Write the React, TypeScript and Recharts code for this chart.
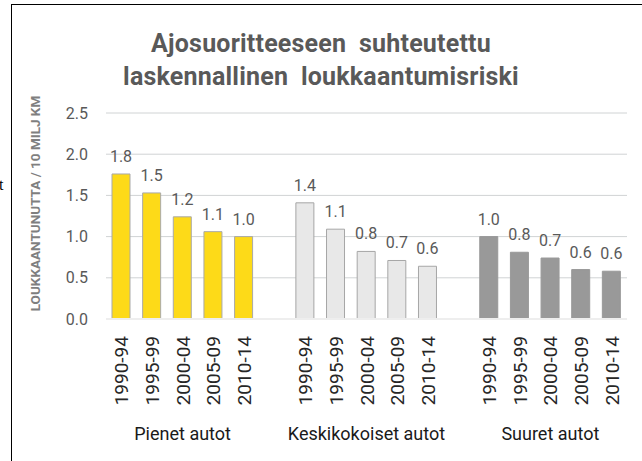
import React from "react";
import {
  BarChart,
  Bar,
  XAxis,
  YAxis,
  CartesianGrid,
  Cell,
  LabelList,
} from "recharts";

const periods = ["1990-94", "1995-99", "2000-04", "2005-09", "2010-14"];
const groups = ["Pienet autot", "Keskikokoiset autot", "Suuret autot"];
const pienet = [1.76, 1.53, 1.24, 1.06, 1.0];
const keskikokoiset = [1.41, 1.09, 0.82, 0.71, 0.64];
const suuret = [1.0, 0.81, 0.74, 0.6, 0.58];
const yTicks = [0, 0.5, 1, 1.5, 2, 2.5];

const groupValues = [pienet, keskikokoiset, suuret];
const fills = ["#FDDA18", "#E8E8E8", "#999999"];
const strokes = ["#A9A9A9", "#A6A6A6", "#999999"];

type Row = {
  period: string;
  value: number | null;
  group: string;
  mid: boolean;
  g: number;
};

const data: Row[] = [];
groupValues.forEach((vals, g) => {
  if (g > 0) data.push({ period: "", value: null, group: "", mid: false, g });
  vals.forEach((v, i) =>
    data.push({ period: periods[i], value: v, group: groups[g], mid: i === 2, g })
  );
});

const FONT = "Roboto, 'Open Sans', sans-serif";

function PeriodTick(props: any) {
  const { x, y, payload } = props;
  const row = data[payload.index];
  if (!row) return null;
  return (
    <g>
      {row.period && (
        <text
          x={x + 7}
          y={y + 9}
          transform={`rotate(-90, ${x + 7}, ${y + 9})`}
          textAnchor="end"
          fontSize={19}
          fill="#262626"
          fontFamily={FONT}
        >
          {row.period}
        </text>
      )}
      {row.mid && (
        <text
          x={x}
          y={y + 113}
          textAnchor="middle"
          fontSize={18}
          fill="#1a1a1a"
          fontFamily={FONT}
        >
          {row.group}
        </text>
      )}
    </g>
  );
}

function AxisTitle(props: any) {
  const vb = props.viewBox || {};
  const cx = 23;
  const cy = (vb.y || 0) + (vb.height || 0) / 2 - 12.5;
  return (
    <text
      x={cx}
      y={cy}
      transform={`rotate(-90, ${cx}, ${cy})`}
      textAnchor="middle"
      dominantBaseline="central"
      fontSize={13.5}
      fontWeight="bold"
      fill="#7F7F7F"
      fontFamily={FONT}
    >
      LOUKKAANTUNUTTA / 10 MILJ KM
    </text>
  );
}

export default function App() {
  return (
    <div>
      <div
        style={{
          position: "absolute",
          left: -1,
          top: 177,
          fontFamily: "serif",
          fontSize: 16,
          lineHeight: "16px",
          color: "#000",
        }}
      >
        t
      </div>
      <div
        style={{
          position: "absolute",
          left: 11,
          top: 4,
          width: 631,
          height: 457,
          borderLeft: "1px solid #000",
          borderTop: "1px solid #000",
          boxSizing: "border-box",
          overflow: "hidden",
          background: "#fff",
        }}
      >
        <div
          style={{
            position: "absolute",
            left: -6,
            top: 22,
            width: 630,
            textAlign: "center",
            fontFamily: FONT,
            fontWeight: "bold",
            fontSize: 25,
            lineHeight: "33px",
            letterSpacing: 0.2,
            color: "#595959",
            whiteSpace: "pre",
          }}
        >
          {"Ajosuoritteeseen  suhteutettu\nlaskennallinen  loukkaantumisriski"}
        </div>
        <BarChart
          width={630}
          height={456}
          data={data}
          margin={{ top: 108, right: 15, left: 0, bottom: 0 }}
        >
          <CartesianGrid vertical={false} stroke="#D0D3D4" />
          <XAxis
            dataKey="period"
            height={142}
            interval={0}
            tickLine={false}
            axisLine={{ stroke: "#EEEEEE", strokeWidth: 2 }}
            tick={<PeriodTick />}
          />
          <YAxis
            width={94}
            domain={[0, 2.5]}
            ticks={yTicks}
            axisLine={false}
            tickLine={false}
            tickMargin={12}
            tickFormatter={(v: number) => v.toFixed(1)}
            tick={{ fontSize: 16, fill: "#595959", fontFamily: FONT }}
            label={<AxisTitle />}
          />
          <Bar dataKey="value" barSize={18} isAnimationActive={false}>
            {data.map((d, i) => (
              <Cell key={i} fill={fills[d.g]} stroke={strokes[d.g]} strokeWidth={1} />
            ))}
            <LabelList
              dataKey="value"
              position="top"
              offset={12}
              fill="#595959"
              fontSize={16}
              fontFamily={FONT}
              formatter={(v: any) => (v == null ? "" : Number(v).toFixed(1))}
            />
          </Bar>
        </BarChart>
      </div>
    </div>
  );
}
